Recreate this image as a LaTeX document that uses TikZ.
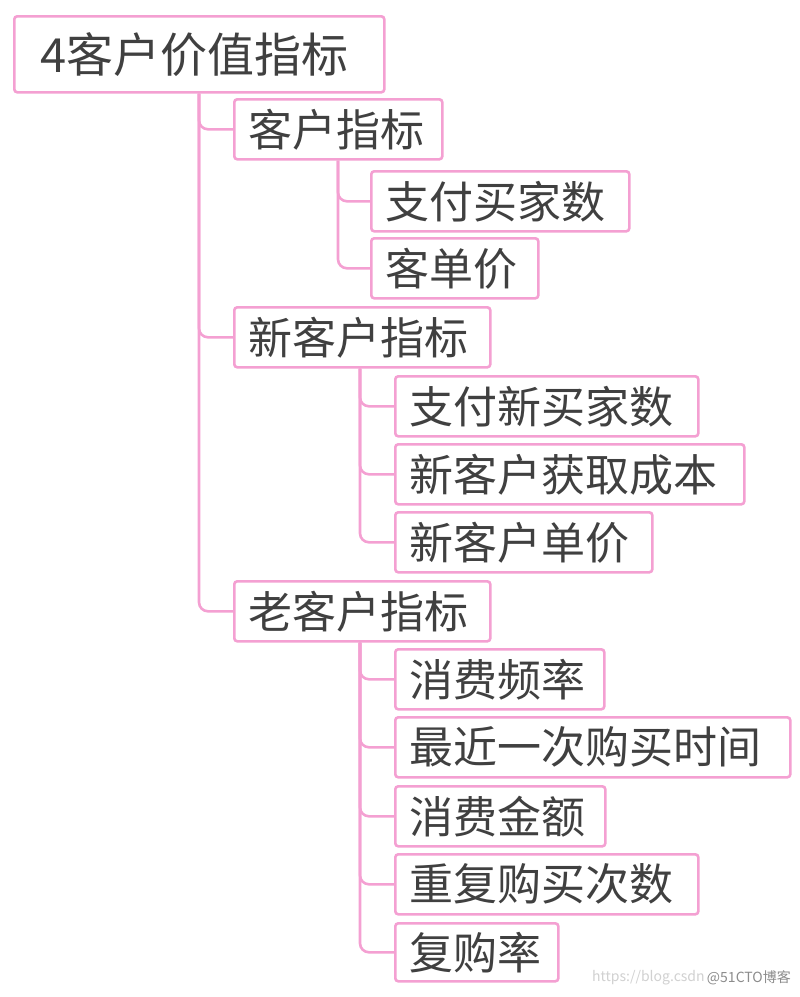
\documentclass[tikz,border=0pt]{standalone}
\usepackage{fontspec}
\setmainfont{Noto Sans CJK SC}
\usetikzlibrary{backgrounds}
\definecolor{pinkline}{RGB}{244,160,210}
\definecolor{txt}{RGB}{64,64,64}
\begin{document}
\begin{tikzpicture}[x=1pt,y=-1pt,
  box/.style={draw=pinkline, line width=2.6pt, rounded corners=3pt, anchor=north west,
    inner xsep=14pt, inner ysep=0pt, minimum height=60pt, align=left, text=txt,
    font=\fontsize{44}{50}\selectfont},
  conn/.style={draw=pinkline, line width=2.6pt, rounded corners=9pt},
  wmark/.style={anchor=east, inner sep=0pt, font=\fontsize{14}{16}\selectfont}]
\useasboundingbox (0,0) rectangle (800,997);
\node[box, minimum height=76pt, inner xsep=26pt, text width=318pt, font=\fontsize{47}{52}\selectfont] (root) at (13,15) {4客户价值指标};
\node[box, text width=180pt] (n2) at (233,98) {客户指标};
\node[box, text width=230pt] (n3) at (370,170) {支付买家数};
\node[box, text width=139pt] (n4) at (370,237) {客单价};
\node[box, text width=228pt] (n5) at (233,306) {新客户指标};
\node[box, text width=275pt] (n6) at (394,375) {支付新买家数};
\node[box, text width=321pt] (n7) at (394,443) {新客户获取成本};
\node[box, text width=229pt] (n8) at (394,511) {新客户单价};
\node[box, text width=228pt] (n9) at (233,580) {老客户指标};
\node[box, text width=181pt] (n10) at (394,648) {消费频率};
\node[box, text width=367pt] (n11) at (394,716) {最近一次购买时间};
\node[box, text width=182pt] (n12) at (394,785) {消费金额};
\node[box, text width=275pt] (n13) at (394,853) {重复购买次数};
\node[box, text width=135pt, minimum height=58pt] (n14) at (394,922) {复购率};
\begin{scope}[on background layer]
\fill[white] (0,0) rectangle (800,997);
\draw[conn] ([xshift=186pt]root.south west) |- (n2.west);
\draw[conn] ([xshift=186pt]root.south west) |- (n5.west);
\draw[conn] ([xshift=186pt]root.south west) |- (n9.west);
\draw[conn] ([xshift=105pt]n2.south west) |- (n3.west);
\draw[conn] ([xshift=105pt]n2.south west) |- (n4.west);
\draw[conn] ([xshift=127pt]n5.south west) |- (n6.west);
\draw[conn] ([xshift=127pt]n5.south west) |- (n7.west);
\draw[conn] ([xshift=127pt]n5.south west) |- (n8.west);
\draw[conn] ([xshift=127pt]n9.south west) |- (n10.west);
\draw[conn] ([xshift=127pt]n9.south west) |- (n11.west);
\draw[conn] ([xshift=127pt]n9.south west) |- (n12.west);
\draw[conn] ([xshift=127pt]n9.south west) |- (n13.west);
\draw[conn] ([xshift=127pt]n9.south west) |- (n14.west);
\end{scope}
\node[wmark, anchor=west, text=black!18] (wm1) at (592,978) {https://blog.csdn};
\node[wmark, text=black!45] (wm2) at (791,978) {@51CTO博客};
\end{tikzpicture}
\end{document}
